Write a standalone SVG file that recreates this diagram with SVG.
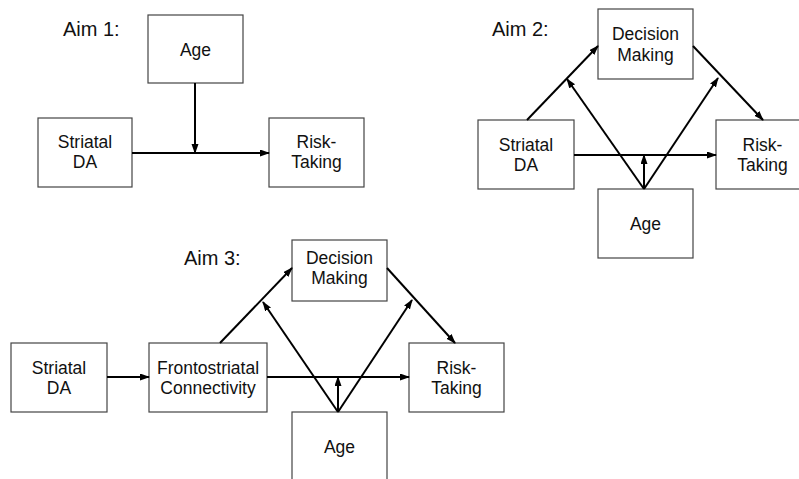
<svg xmlns="http://www.w3.org/2000/svg" width="799" height="479" viewBox="0 0 799 479">
<style>
.box{fill:#fff;stroke:#444;stroke-width:1.2}
.t{font-family:"Liberation Sans",Arial,sans-serif;font-size:17.5px;fill:#111;text-anchor:middle}
.aim{font-family:"Liberation Sans",Arial,sans-serif;font-size:20px;fill:#111}
.c{stroke:#000;stroke-width:2;fill:none;marker-end:url(#ah)}
</style>
<defs>
<marker id="ah" markerUnits="userSpaceOnUse" markerWidth="10" markerHeight="8" refX="9" refY="3.5" orient="auto">
<path d="M0,0 L10,3.5 L0,7 z" fill="#000"/>
</marker>
</defs>
<rect width="799" height="479" fill="#fff"/>

<!-- Aim 1 -->
<text class="aim" x="63" y="36">Aim 1:</text>
<g id="a1-age"><rect class="box" x="148" y="15" width="95" height="68"/><text class="t" x="195.5" y="56">Age</text></g>
<g id="a1-sda"><rect class="box" x="38" y="118" width="94" height="69"/><text class="t" x="85" y="148">Striatal</text><text class="t" x="85" y="168">DA</text></g>
<g id="a1-risk"><rect class="box" x="269" y="118" width="95" height="69"/><text class="t" x="316.5" y="148">Risk-</text><text class="t" x="316.5" y="168">Taking</text></g>

<!-- Aim 2 -->
<text class="aim" x="492" y="36">Aim 2:</text>
<g id="a2-dm"><rect class="box" x="598" y="9" width="95" height="70"/><text class="t" x="645.5" y="40">Decision</text><text class="t" x="645.5" y="61">Making</text></g>
<g id="a2-sda"><rect class="box" x="478" y="120" width="96" height="69"/><text class="t" x="526" y="151">Striatal</text><text class="t" x="526" y="171">DA</text></g>
<g id="a2-risk"><rect class="box" x="716" y="120" width="93" height="69"/><text class="t" x="762.5" y="151">Risk-</text><text class="t" x="762.5" y="171">Taking</text></g>
<g id="a2-age"><rect class="box" x="598" y="189" width="95" height="69"/><text class="t" x="645.5" y="230">Age</text></g>

<!-- Aim 3 -->
<text class="aim" x="184" y="265">Aim 3:</text>
<g id="a3-dm"><rect class="box" x="292" y="240" width="95" height="61"/><text class="t" x="339.5" y="264">Decision</text><text class="t" x="339.5" y="284">Making</text></g>
<g id="a3-sda"><rect class="box" x="11" y="343" width="96" height="69"/><text class="t" x="59" y="374">Striatal</text><text class="t" x="59" y="394">DA</text></g>
<g id="a3-fc"><rect class="box" x="149" y="343" width="118" height="69"/><text class="t" x="208" y="374">Frontostriatal</text><text class="t" x="208" y="394">Connectivity</text></g>
<g id="a3-risk"><rect class="box" x="409" y="343" width="95" height="69"/><text class="t" x="456.5" y="374">Risk-</text><text class="t" x="456.5" y="394">Taking</text></g>
<g id="a3-age"><rect class="box" x="292" y="412" width="95" height="80"/><text class="t" x="339.5" y="453">Age</text></g>

<g id="connectors">
<line class="c" x1="132" y1="153" x2="269" y2="153"/>
<line class="c" x1="195" y1="83" x2="195" y2="153"/>

<line class="c" x1="574" y1="155" x2="716" y2="155"/>
<line class="c" x1="644" y1="189" x2="644" y2="155"/>
<line class="c" x1="527" y1="120" x2="598" y2="46"/>
<line class="c" x1="693" y1="46" x2="763" y2="120"/>
<line class="c" x1="644" y1="189" x2="567" y2="79"/>
<line class="c" x1="644" y1="189" x2="718" y2="78"/>

<line class="c" x1="107" y1="377" x2="149" y2="377"/>
<line class="c" x1="267" y1="377" x2="409" y2="377"/>
<line class="c" x1="338" y1="412" x2="338" y2="377"/>
<line class="c" x1="220" y1="343" x2="292" y2="268"/>
<line class="c" x1="387" y1="268" x2="455" y2="343"/>
<line class="c" x1="338" y1="412" x2="263" y2="302"/>
<line class="c" x1="338" y1="412" x2="412" y2="300"/>
</g>
</svg>
